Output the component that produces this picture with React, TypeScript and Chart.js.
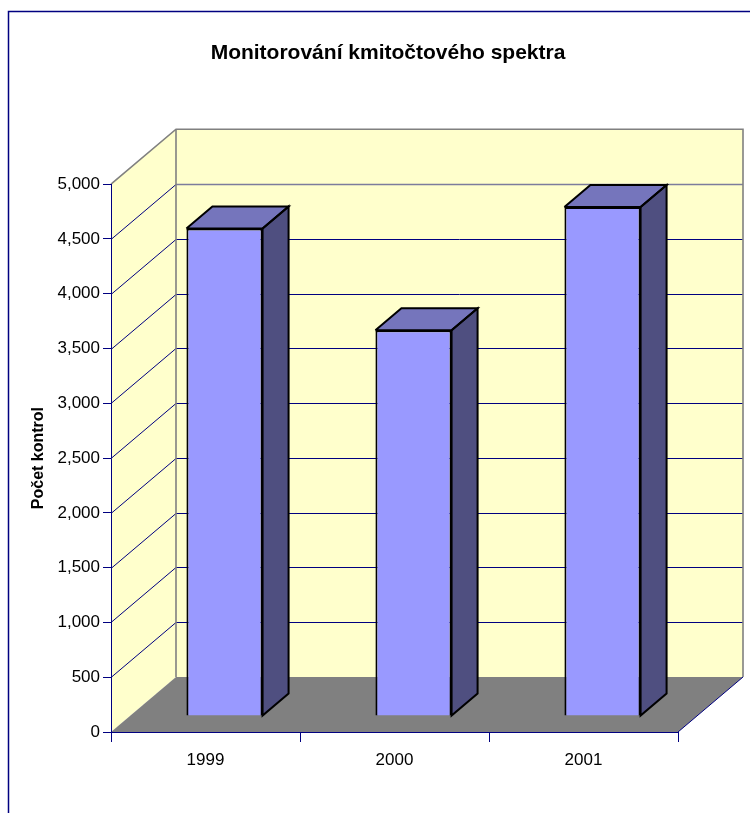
import React, { useEffect, useRef } from "react";
import { Chart, registerables } from "chart.js";

Chart.register(...registerables);

const categories = ["1999", "2000", "2001"];
const inspections = [4450, 3520, 4645];
const yLabelTitle = "Počet kontrol";
const chartTitle = "Monitorování kmitočtového spektra";

const FONT = "'Liberation Sans', Arial, sans-serif";
const NAVY = "#000080";
const GREY = "#808080";
const WALL = "#FFFFCC";
const FACE = "#9999FF";
const TOP = "#7575BC";
const SIDE = "#4F4F80";

// 3D projection of the plot box and of the bars inside it
const DEPTH_X = 65;
const DEPTH_Y = 55;
const BAR_SHIFT_X = 19;
const BAR_SHIFT_Y = 16;
const BAR_DEPTH_X = 26;
const BAR_DEPTH_Y = 22;

const poly = (ctx: CanvasRenderingContext2D, pts: number[][], fill: string) => {
  ctx.beginPath();
  pts.forEach((p, i) => (i ? ctx.lineTo(p[0], p[1]) : ctx.moveTo(p[0], p[1])));
  ctx.closePath();
  ctx.fillStyle = fill;
  ctx.fill();
};

const line = (ctx: CanvasRenderingContext2D, pts: number[][], color: string, width: number) => {
  ctx.beginPath();
  pts.forEach((p, i) => (i ? ctx.lineTo(p[0], p[1]) : ctx.moveTo(p[0], p[1])));
  ctx.strokeStyle = color;
  ctx.lineWidth = width;
  ctx.stroke();
};

const box3d = {
  id: "box3d",
  beforeDraw(chart: any) {
    const { ctx, chartArea: a, scales } = chart;
    const y = scales.y;
    const dx = DEPTH_X;
    const dy = DEPTH_Y;
    ctx.save();
    // chart frame
    line(ctx, [[8.5, chart.height], [8.5, 11.5], [chart.width, 11.5]], NAVY, 1.5);
    // walls and floor
    poly(ctx, [[a.left + dx, a.top - dy], [a.right + dx, a.top - dy], [a.right + dx, a.bottom - dy], [a.left + dx, a.bottom - dy]], WALL);
    poly(ctx, [[a.left, a.top], [a.left + dx, a.top - dy], [a.left + dx, a.bottom - dy], [a.left, a.bottom]], WALL);
    poly(ctx, [[a.left, a.bottom], [a.left + dx, a.bottom - dy], [a.right + dx, a.bottom - dy], [a.right, a.bottom]], GREY);
    // grid lines on the side and back walls
    y.ticks.forEach((t: any) => {
      const py = Math.round(y.getPixelForValue(t.value)) + 0.5;
      if (t.value === 0 || t.value === y.max) return;
      const wide = t.value === 4500;
      line(ctx, [[a.left, py], [a.left + dx, py - dy]], NAVY, 1);
      line(ctx, [[a.left + dx, py - dy], [a.right + dx, py - dy]], wide ? "#7C7C9C" : NAVY, wide ? 1.6 : 1);
    });
    // wall edges
    line(ctx, [[a.left + dx, a.bottom - dy], [a.left + dx, a.top - dy]], GREY, 1.6);
    line(ctx, [[a.left, a.top], [a.left + dx, a.top - dy], [a.right + dx, a.top - dy], [a.right + dx, a.bottom - dy]], GREY, 1.6);
    line(ctx, [[a.right, a.bottom], [a.right + dx, a.bottom - dy]], NAVY, 1);
    ctx.restore();
  },
  beforeDatasetDraw(chart: any, args: any) {
    const { ctx } = chart;
    const meta = chart.getDatasetMeta(args.index);
    ctx.save();
    ctx.translate(BAR_SHIFT_X, -BAR_SHIFT_Y);
    meta.data.forEach((bar: any) => {
      const { x, y, base, width } = bar.getProps(["x", "y", "base", "width"], true);
      const l = x - width / 2;
      const r = x + width / 2;
      const ddx = BAR_DEPTH_X;
      const ddy = BAR_DEPTH_Y;
      const topPts = [[l, y], [l + ddx, y - ddy], [r + ddx, y - ddy], [r, y]];
      const sidePts = [[r, y], [r + ddx, y - ddy], [r + ddx, base - ddy], [r, base]];
      poly(ctx, topPts, TOP);
      poly(ctx, sidePts, SIDE);
      ctx.lineJoin = "miter";
      line(ctx, [...topPts, topPts[0]], "#000000", 2);
      line(ctx, [...sidePts, sidePts[0]], "#000000", 2);
    });
  },
  afterDatasetDraw(chart: any) {
    chart.ctx.restore();
  },
};

export default function App() {
  const ref = useRef<HTMLCanvasElement | null>(null);

  useEffect(() => {
    if (!ref.current) return;
    const chart = new Chart(ref.current, {
      type: "bar",
      data: {
        labels: categories,
        datasets: [
          {
            data: inspections,
            backgroundColor: FACE,
            borderColor: "#000000",
            borderWidth: 2,
            barPercentage: 0.403,
            categoryPercentage: 1,
            clip: false,
          } as any,
        ],
      },
      options: {
        animation: false,
        responsive: false,
        layout: { padding: { left: 26, right: 0, top: 0, bottom: 0 } },
        plugins: {
          legend: { display: false },
          tooltip: { enabled: false },
          title: {
            display: true,
            text: chartTitle,
            color: "#000000",
            font: { family: FONT, size: 21, weight: "bold" },
            padding: { top: 41, bottom: 118 },
          },
        },
        scales: {
          x: {
            offset: true,
            grid: { offset: true, drawOnChartArea: false, drawTicks: true, tickLength: 10, color: NAVY },
            border: { color: NAVY, width: 1 },
            ticks: { color: "#000000", font: { family: FONT, size: 17 }, padding: 8, maxRotation: 0 },
            afterFit: (s: any) => {
              s.height = 81;
            },
          },
          y: {
            min: 0,
            max: 5000,
            grid: { drawOnChartArea: false, drawTicks: true, tickLength: 8, color: NAVY },
            border: { color: NAVY, width: 1 },
            ticks: { stepSize: 500, color: "#000000", font: { family: FONT, size: 17 }, padding: 3 },
            title: {
              display: true,
              text: yLabelTitle,
              color: "#000000",
              font: { family: FONT, size: 16, weight: "bold" },
              padding: { top: 3, bottom: 0 },
            },
            afterFit: (s: any) => {
              s.width = 85;
            },
          },
          y2: {
            position: "right",
            display: true,
            grid: { display: false, drawTicks: false },
            border: { display: false },
            ticks: { display: false },
            afterFit: (s: any) => {
              s.width = 72;
            },
          },
        },
      },
      plugins: [box3d],
    } as any);
    return () => chart.destroy();
  }, []);

  return (
    <div style={{ position: "absolute", left: 0, top: 0, width: 750, height: 813, background: "#FFFFFF" }}>
      <canvas ref={ref} width={750} height={813} style={{ display: "block" }} />
    </div>
  );
}
